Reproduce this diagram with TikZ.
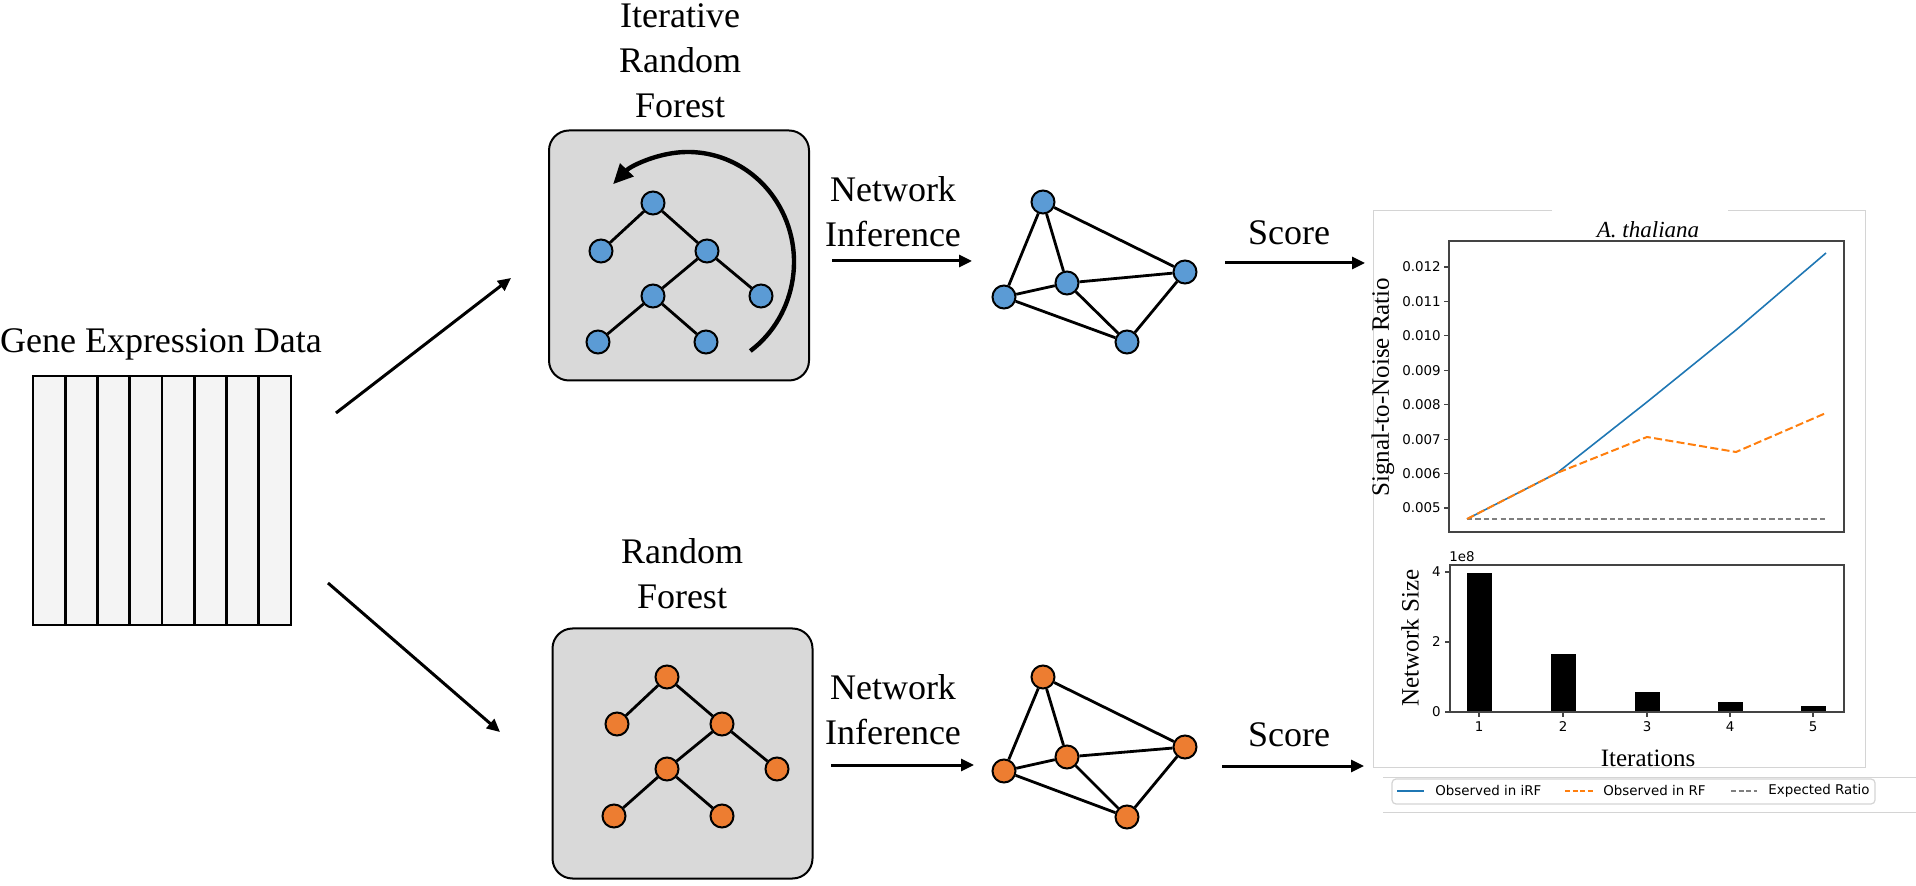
\documentclass[tikz,border=0pt]{standalone}
\usepackage{fontspec}
\setmainfont{Liberation Serif}
\newfontfamily\plotfont{DejaVu Sans}
\usetikzlibrary{arrows.meta}
\definecolor{nodeblue}{HTML}{5B9BD5}
\definecolor{nodeorange}{HTML}{ED7D31}
\definecolor{boxgray}{HTML}{D9D9D9}
\definecolor{mplblue}{HTML}{1F77B4}
\definecolor{mplorange}{HTML}{FF7F0E}
\definecolor{mplgray}{HTML}{7F7F7F}
\definecolor{cellgray}{HTML}{F4F4F4}
\definecolor{framegray}{HTML}{D4D4D4}
\definecolor{axisgray}{HTML}{444444}
\begin{document}
\begin{tikzpicture}[x=0.5pt,y=-0.5pt,
 vert/.style={circle, draw=black, line width=1pt, minimum size=11.5pt, inner sep=0pt},
 bluev/.style={vert, fill=nodeblue},
 orangev/.style={vert, fill=nodeorange},
 edge/.style={line width=1.4pt},
 flow/.style={line width=1.5pt, -{Triangle[length=6.5pt,width=6pt]}},
 lbl/.style={font=\fontsize{18}{22.5}\selectfont, align=center, inner sep=0pt},
 forestbox/.style={draw=black, line width=1pt, fill=boxgray, rounded corners=10pt, minimum width=130pt, minimum height=125pt, inner sep=0pt},
 tick/.style={font=\plotfont\fontsize{6.7}{8}\selectfont, inner sep=0pt},
 axlbl/.style={font=\fontsize{12.5}{14}\selectfont, inner sep=0pt},
 axisline/.style={draw=axisgray, line width=0.7pt},
 panel/.style={draw=framegray, line width=0.5pt},
]
\useasboundingbox (0,0) rectangle (1916,886);

% ---------- data matrix ----------
\node[lbl, anchor=base] (gedlabel) at (161,353) {Gene Expression Data};
\node[draw=black, fill=cellgray, line width=1.3pt, minimum width=129pt, minimum height=124.5pt, inner sep=0pt] (data) at (162,500.5) {};
\foreach \k in {1,...,7} {
  \draw[line width=1.3pt] (33+32.25*\k,376) -- (33+32.25*\k,625);
}
\coordinate (upA) at (336,413);
\coordinate (upB) at (511,278);
\coordinate (loA) at (328,583);
\coordinate (loB) at (500,732);
\draw[flow] (upA) -- (upB);
\draw[flow] (loA) -- (loB);

% ---------- iterative random forest ----------
\node[lbl] (irflabel) at (680,61) {Iterative\\Random\\Forest};
\node[forestbox] (irfbox) at (679,255.5) {};
\node[bluev] (t1) at (653,203) {};
\node[bluev] (t2) at (601,251) {};
\node[bluev] (t3) at (707,251) {};
\node[bluev] (t4) at (653,296) {};
\node[bluev] (t5) at (761,296) {};
\node[bluev] (t6) at (598,342) {};
\node[bluev] (t7) at (706,342) {};
\draw[edge] (t1) -- (t2) (t1) -- (t3) (t3) -- (t4) (t3) -- (t5) (t4) -- (t6) (t4) -- (t7);
\draw[line width=2.2pt, -{Triangle[length=10pt,width=9pt]}] (688,262) ++(54:106 and 110) arc[start angle=54, end angle=-135, x radius=106, y radius=110];

% ---------- random forest ----------
\node[lbl] (rflabel) at (682,574) {Random\\Forest};
\node[forestbox] (rfbox) at (682.5,753.5) {};
\node[orangev] (s1) at (667,677) {};
\node[orangev] (s2) at (617,724) {};
\node[orangev] (s3) at (722,724) {};
\node[orangev] (s4) at (667,769) {};
\node[orangev] (s5) at (777,769) {};
\node[orangev] (s6) at (614,816) {};
\node[orangev] (s7) at (722,816) {};
\draw[edge] (s1) -- (s2) (s1) -- (s3) (s3) -- (s4) (s3) -- (s5) (s4) -- (s6) (s4) -- (s7);

% ---------- network inference arrows ----------
\node[lbl] (niup) at (893,212) {Network\\Inference};
\coordinate (niupA) at (832,261);
\coordinate (niupB) at (972,261);
\draw[flow] (niupA) -- (niupB);
\node[lbl] (nilo) at (893,710) {Network\\Inference};
\coordinate (niloA) at (831,765);
\coordinate (niloB) at (974,765);
\draw[flow] (niloA) -- (niloB);

% ---------- networks ----------
\node[bluev] (na) at (1043,202) {};
\node[bluev] (nb) at (1004,297) {};
\node[bluev] (nc) at (1067,283) {};
\node[bluev] (nd) at (1185,272) {};
\node[bluev] (ne) at (1127,342) {};
\draw[edge] (na) -- (nb) (na) -- (nc) (na) -- (nd) (nb) -- (nc) (nb) -- (ne) (nc) -- (nd) (nc) -- (ne) (nd) -- (ne);

\node[orangev] (ma) at (1043,677) {};
\node[orangev] (mb) at (1004,771) {};
\node[orangev] (mc) at (1067,757) {};
\node[orangev] (md) at (1185,747) {};
\node[orangev] (me) at (1127,817) {};
\draw[edge] (ma) -- (mb) (ma) -- (mc) (ma) -- (md) (mb) -- (mc) (mb) -- (me) (mc) -- (md) (mc) -- (me) (md) -- (me);

% ---------- score arrows ----------
\node[lbl, anchor=base] (scup) at (1289,245) {Score};
\coordinate (scupA) at (1225,263);
\coordinate (scupB) at (1365,263);
\draw[flow] (scupA) -- (scupB);
\node[lbl, anchor=base] (sclo) at (1289,747) {Score};
\coordinate (scloA) at (1222,766);
\coordinate (scloB) at (1364,766);
\draw[flow] (scloA) -- (scloB);

% ---------- chart panel ----------
\draw[panel] (1552,211) -- (1373,211) -- (1373,767) -- (1865,767) -- (1865,211) -- (1728,211);
\draw[panel] (1383,777) -- (1916,777);
\draw[panel] (1383,812) -- (1916,812);

% top plot
\node[font=\itshape\fontsize{11.5}{13}\selectfont, inner sep=0pt] (ttl) at (1648,230) {A. thaliana};
\foreach \k/\t in {0/0.005,1/0.006,2/0.007,3/0.008,4/0.009,5/0.010,6/0.011,7/0.012} {
  \draw[axisgray, line width=0.6pt] (1444,508-34.43*\k) -- (1449,508-34.43*\k);
  \node[tick, anchor=east] at (1441,508-34.43*\k) {\t};
}
\draw[mplgray, line width=0.8pt, dash pattern=on 2.6pt off 1.6pt] (1467,519) -- (1826,519);
\draw[mplblue, line width=0.8pt] (1467,519) -- (1557,473) -- (1647,402) -- (1736,330) -- (1826,253);
\draw[mplorange, line width=1pt, dash pattern=on 4pt off 1.7pt] (1467,519) -- (1557,473) -- (1647,437) -- (1736,452) -- (1826,413);
\draw[axisline] (1449,241) rectangle (1844,532);
\node[axlbl, rotate=90] (ylab1) at (1383,387) {Signal-to-Noise Ratio};

% bottom plot
\foreach \x/\top in {1479/573,1563/654,1647/692,1730/702,1813/706} {
  \fill[black] (\x-12.5,\top) rectangle (\x+12.5,712);
}
\draw[axisline] (1450,565) rectangle (1844,712);
\foreach \y/\t in {712/0,642/2,572/4} {
  \draw[axisgray, line width=0.6pt] (1445,\y) -- (1450,\y);
  \node[tick, anchor=east] at (1441,\y) {\t};
}
\foreach \x/\t in {1479/1,1563/2,1647/3,1730/4,1813/5} {
  \draw[axisgray, line width=0.6pt] (\x,712) -- (\x,717);
  \node[tick] at (\x,727) {\t};
}
\node[tick, anchor=west] (expo) at (1449,557) {1e8};
\node[axlbl, rotate=90] (ylab2) at (1410,638) {Network Size};
\node[axlbl] (xlab) at (1648,758) {Iterations};

% legend
\draw[draw=framegray, line width=0.6pt, fill=white, rounded corners=2pt] (1392,779) rectangle (1875,804);
\draw[mplblue, line width=0.8pt] (1397,791) -- (1424,791);
\node[tick, anchor=west] at (1435,791) {Observed in iRF};
\draw[mplorange, line width=0.8pt, dash pattern=on 2.6pt off 1.2pt] (1565,791) -- (1593,791);
\node[tick, anchor=west] at (1603,791) {Observed in RF};
\draw[mplgray, line width=0.8pt, dash pattern=on 2.6pt off 1.2pt] (1731,791) -- (1757,791);
\node[tick, anchor=west] at (1768,791) {Expected Ratio};
\end{tikzpicture}
\end{document}
